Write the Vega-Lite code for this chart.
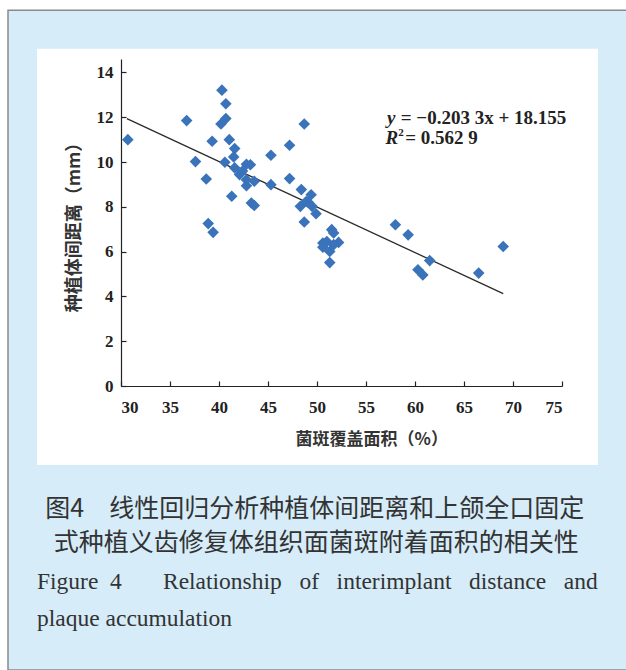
{
  "$schema": "https://vega.github.io/schema/vega-lite/v6.json",
  "width": 441,
  "height": 327,
  "autosize": {"type": "none"},
  "padding": {"left": 121, "top": 59, "right": 64, "bottom": 284},
  "background": "#ffffff",
  "data": {"values": [{}]},
  "datasets": {
    "points": [
      {"coverage": 30.7, "distance": 11.0}, {"coverage": 36.7, "distance": 11.85}, {"coverage": 37.6, "distance": 10.02},
      {"coverage": 38.7, "distance": 9.24}, {"coverage": 38.9, "distance": 7.25}, {"coverage": 39.4, "distance": 6.86},
      {"coverage": 39.3, "distance": 10.93}, {"coverage": 40.3, "distance": 13.21}, {"coverage": 40.7, "distance": 12.6},
      {"coverage": 40.7, "distance": 11.94}, {"coverage": 40.2, "distance": 11.7}, {"coverage": 41.05, "distance": 11.0},
      {"coverage": 41.6, "distance": 10.6}, {"coverage": 40.6, "distance": 9.99}, {"coverage": 41.5, "distance": 10.23},
      {"coverage": 41.3, "distance": 8.47}, {"coverage": 42.8, "distance": 9.9}, {"coverage": 43.2, "distance": 9.88},
      {"coverage": 41.6, "distance": 9.74}, {"coverage": 42.1, "distance": 9.44}, {"coverage": 42.8, "distance": 8.94},
      {"coverage": 43.6, "distance": 9.14}, {"coverage": 42.8, "distance": 9.21}, {"coverage": 42.4, "distance": 9.6},
      {"coverage": 43.3, "distance": 8.17}, {"coverage": 43.6, "distance": 8.06}, {"coverage": 45.3, "distance": 10.3},
      {"coverage": 47.2, "distance": 10.75}, {"coverage": 48.7, "distance": 11.7}, {"coverage": 47.2, "distance": 9.26},
      {"coverage": 45.3, "distance": 8.99}, {"coverage": 48.4, "distance": 8.77}, {"coverage": 49.4, "distance": 8.54},
      {"coverage": 48.3, "distance": 8.02}, {"coverage": 49.1, "distance": 8.2}, {"coverage": 48.9, "distance": 8.24},
      {"coverage": 49.5, "distance": 8.02}, {"coverage": 48.7, "distance": 7.32}, {"coverage": 49.9, "distance": 7.69},
      {"coverage": 51.5, "distance": 6.98}, {"coverage": 51.7, "distance": 6.83}, {"coverage": 50.6, "distance": 6.38},
      {"coverage": 51.0, "distance": 6.45}, {"coverage": 52.2, "distance": 6.41}, {"coverage": 50.6, "distance": 6.2},
      {"coverage": 51.3, "distance": 6.01}, {"coverage": 51.7, "distance": 6.31}, {"coverage": 51.3, "distance": 5.51},
      {"coverage": 58.0, "distance": 7.2}, {"coverage": 59.3, "distance": 6.75}, {"coverage": 61.5, "distance": 5.6},
      {"coverage": 60.3, "distance": 5.19}, {"coverage": 60.8, "distance": 4.96}, {"coverage": 66.5, "distance": 5.04},
      {"coverage": 69.0, "distance": 6.23}
    ],
    "fit": [
      {"coverage": 30.6, "distance": 11.934},
      {"coverage": 69.0, "distance": 4.127}
    ]
  },
  "title": {
    "text": ["\u200b\u2004图4\u3000线性回归分析种植体间距离和上颌全口固定", "\u200b\u2002\u2006式种植义齿修复体组织面菌斑附着面积的相关性"],
    "subtitle": ["Figure\u00a0\u00a04\u00a0\u00a0\u00a0\u00a0\u00a0\u00a0\u00a0Relationship\u00a0\u00a0\u00a0of\u00a0\u00a0\u00a0interimplant\u00a0\u00a0\u00a0distance\u00a0\u00a0\u00a0and", "plaque accumulation"],
    "orient": "bottom",
    "anchor": "start",
    "frame": "group",
    "dx": -84,
    "offset": -174,
    "zindex": 2,
    "font": "Noto Sans CJK SC",
    "fontSize": 25,
    "fontWeight": "normal",
    "color": "#333333",
    "lineHeight": 34,
    "subtitleFont": "Liberation Serif",
    "subtitleFontSize": 23.5,
    "subtitleColor": "#333333",
    "subtitleLineHeight": 37,
    "subtitlePadding": 14
  },
  "config": {
    "view": {"stroke": null}
  },
  "layer": [
    {
      "mark": {"type": "rect", "fill": "#d6ecf9", "stroke": "#8a8a8a", "strokeWidth": 1.5},
      "encoding": {
        "x": {"datum": 18.47, "type": "quantitative", "scale": {"domain": [30, 75], "nice": false, "zero": false}},
        "x2": {"datum": 82.96},
        "y": {"datum": 16.78, "type": "quantitative", "scale": {"domain": [0, 14.6], "nice": false, "zero": false}},
        "y2": {"datum": -12.68}
      }
    },
    {
      "mark": {"type": "rect", "fill": "#ffffff"},
      "encoding": {
        "x": {"datum": 21.43, "type": "quantitative", "scale": {"domain": [30, 75], "nice": false, "zero": false}},
        "x2": {"datum": 78.67},
        "y": {"datum": 15.06, "type": "quantitative", "scale": {"domain": [0, 14.6], "nice": false, "zero": false}},
        "y2": {"datum": -3.53}
      }
    },
    {
      "data": {"name": "fit"},
      "mark": {"type": "line", "color": "#2b2b2b", "strokeWidth": 1.3},
      "encoding": {
        "x": {"field": "coverage", "type": "quantitative", "scale": {"domain": [30, 75], "nice": false, "zero": false}},
        "y": {"field": "distance", "type": "quantitative", "scale": {"domain": [0, 14.6], "nice": false, "zero": false}}
      }
    },
    {
      "data": {"name": "points"},
      "mark": {"type": "point", "shape": "diamond", "filled": true, "size": 135, "color": "#3a73ba", "opacity": 1},
      "encoding": {
        "x": {
          "field": "coverage", "type": "quantitative",
          "scale": {"domain": [30, 75], "nice": false, "zero": false},
          "axis": {
            "orient": "bottom", "domain": true, "ticks": true, "labels": true, "grid": false, "zindex": 3,
            "values": [30, 35, 40, 45, 50, 55, 60, 65, 70, 75],
            "domainColor": "#222222", "domainWidth": 1.2, "tickColor": "#222222", "tickWidth": 1.2, "tickSize": -5,
            "labelFont": "Liberation Serif", "labelFontWeight": "bold", "labelFontSize": 17, "labelColor": "#222222", "labelPadding": 18,
            "title": "\u200b\u3000\u3000\u3000\u2002菌斑覆盖面积（%）", "titleFont": "Noto Sans CJK SC", "titleFontWeight": "bold", "titleFontSize": 17, "titleColor": "#333333", "titlePadding": 16
          }
        },
        "y": {
          "field": "distance", "type": "quantitative",
          "scale": {"domain": [0, 14.6], "nice": false, "zero": false},
          "axis": {
            "orient": "left", "domain": true, "ticks": true, "labels": true, "grid": false, "zindex": 3,
            "values": [0, 2, 4, 6, 8, 10, 12, 14],
            "domainColor": "#222222", "domainWidth": 1.2, "tickColor": "#222222", "tickWidth": 1.2, "tickSize": -5,
            "labelFont": "Liberation Serif", "labelFontWeight": "bold", "labelFontSize": 17, "labelColor": "#222222", "labelPadding": 13,
            "title": "种植体间距离（mm）", "titleFont": "Noto Sans CJK SC", "titleFontWeight": "bold", "titleFontSize": 18, "titleColor": "#333333", "titlePadding": 13
          }
        }
      }
    },
    {
      "mark": {"type": "text", "text": "y", "font": "Liberation Serif", "fontStyle": "italic", "fontWeight": "bold", "fontSize": 19, "align": "left", "baseline": "middle", "color": "#222222"},
      "encoding": {
        "x": {"datum": 57.15, "type": "quantitative", "scale": {"domain": [30, 75], "nice": false, "zero": false}},
        "y": {"datum": 11.95, "type": "quantitative", "scale": {"domain": [0, 14.6], "nice": false, "zero": false}}
      }
    },
    {
      "mark": {"type": "text", "text": "= −0.203 3x + 18.155", "font": "Liberation Serif", "fontWeight": "bold", "fontSize": 19, "align": "left", "baseline": "middle", "color": "#222222"},
      "encoding": {
        "x": {"datum": 58.55, "type": "quantitative", "scale": {"domain": [30, 75], "nice": false, "zero": false}},
        "y": {"datum": 11.95, "type": "quantitative", "scale": {"domain": [0, 14.6], "nice": false, "zero": false}}
      }
    },
    {
      "mark": {"type": "text", "text": "R", "font": "Liberation Serif", "fontStyle": "italic", "fontWeight": "bold", "fontSize": 19, "align": "left", "baseline": "middle", "color": "#222222"},
      "encoding": {
        "x": {"datum": 57.0, "type": "quantitative", "scale": {"domain": [30, 75], "nice": false, "zero": false}},
        "y": {"datum": 11.07, "type": "quantitative", "scale": {"domain": [0, 14.6], "nice": false, "zero": false}}
      }
    },
    {
      "mark": {"type": "text", "text": "2", "font": "Liberation Serif", "fontWeight": "bold", "fontSize": 11, "align": "left", "baseline": "middle", "color": "#222222"},
      "encoding": {
        "x": {"datum": 58.3, "type": "quantitative", "scale": {"domain": [30, 75], "nice": false, "zero": false}},
        "y": {"datum": 11.3, "type": "quantitative", "scale": {"domain": [0, 14.6], "nice": false, "zero": false}}
      }
    },
    {
      "mark": {"type": "text", "text": "= 0.562 9", "font": "Liberation Serif", "fontWeight": "bold", "fontSize": 19, "align": "left", "baseline": "middle", "color": "#222222"},
      "encoding": {
        "x": {"datum": 59.0, "type": "quantitative", "scale": {"domain": [30, 75], "nice": false, "zero": false}},
        "y": {"datum": 11.07, "type": "quantitative", "scale": {"domain": [0, 14.6], "nice": false, "zero": false}}
      }
    }
  ]
}
